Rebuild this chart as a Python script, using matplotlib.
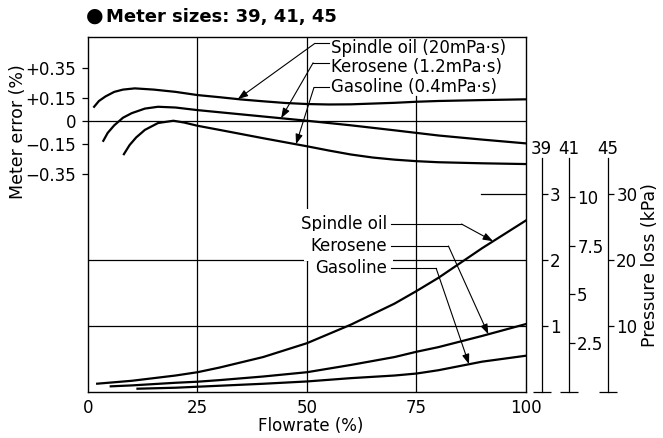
import numpy as np
import matplotlib
matplotlib.use("Agg")
import matplotlib.pyplot as plt

plt.rcParams['font.family'] = ['DejaVu Sans']
plt.rcParams['font.size'] = 12

# ---- data -------------------------------------------------------------
flow_ticks = [0, 25, 50, 75, 100]
err_ticks = [0.35, 0.15, 0, -0.15, -0.35]

# meter error (%) vs flowrate (%)
flow_err_spindle = [1.4, 2.5, 4, 6, 8, 10.7, 15, 20, 25, 30, 35, 40, 45, 50, 55, 60, 70, 75, 80, 90, 100]
err_spindle = [0.092, 0.13, 0.16, 0.19, 0.205, 0.213, 0.205, 0.19, 0.169, 0.155, 0.14, 0.128, 0.117, 0.11, 0.107, 0.108, 0.118, 0.125, 0.13, 0.136, 0.141]
flow_err_kerosene = [3.5, 4.5, 6, 8, 10, 13, 16, 20, 25, 30, 40, 50, 60, 70, 75, 80, 90, 100]
err_kerosene = [-0.132, -0.08, -0.03, 0.02, 0.05, 0.08, 0.092, 0.087, 0.07, 0.056, 0.028, 0.0, -0.03, -0.063, -0.08, -0.097, -0.124, -0.149]
flow_err_gasoline = [8.2, 9.5, 11, 13, 16, 19.5, 22, 25, 30, 40, 50, 55, 60, 65, 70, 75, 80, 90, 100]
err_gasoline = [-0.22, -0.16, -0.11, -0.06, -0.015, 0.0, -0.012, -0.033, -0.06, -0.115, -0.168, -0.196, -0.222, -0.242, -0.256, -0.266, -0.273, -0.28, -0.285]

# pressure loss (kPa, size 39 scale) vs flowrate (%)
flow_p_spindle = [2.1, 10, 20, 25, 30, 40, 50, 60, 70, 75, 80, 90, 100]
p_spindle = [0.126, 0.17, 0.25, 0.30, 0.37, 0.53, 0.74, 1.02, 1.34, 1.53, 1.73, 2.18, 2.6]
flow_p_kerosene = [5.2, 10, 20, 25, 30, 40, 50, 60, 70, 75, 80, 90, 100]
p_kerosene = [0.086, 0.1, 0.14, 0.156, 0.18, 0.235, 0.30, 0.41, 0.53, 0.61, 0.68, 0.85, 1.03]
flow_p_gasoline = [11.3, 20, 25, 30, 40, 50, 60, 70, 75, 80, 90, 100]
p_gasoline = [0.05, 0.065, 0.08, 0.095, 0.125, 0.16, 0.21, 0.25, 0.28, 0.33, 0.46, 0.55]

sizes = ['39', '41', '45']
size_ticks = [[1, 2, 3], [2.5, 5, 7.5, 10], [10, 20, 30]]
size_tick_labels = [['1', '2', '3'], ['2.5', '5', '7.5', '10'], ['10', '20', '30']]
size_ymax = [5.38, 18.2, 53.8]      # top of the plot frame on each scale
size_spine_top = [3.545, 12.0, 35.45]

err_labels = ['Spindle oil (20mPa\u00b7s)', 'Kerosene (1.2mPa\u00b7s)', 'Gasoline (0.4mPa\u00b7s)']
p_labels = ['Spindle oil', 'Kerosene', 'Gasoline']

# ---- figure -----------------------------------------------------------
fig = plt.figure(figsize=(6.63, 4.38), dpi=100)
ax = fig.add_axes([0.1327, 0.105, 0.6606, 0.8105])
lw_grid = 0.9
lw_curve = 1.6

ax.set_xlim(0, 100)
ax.set_ylim(-1.785, 0.551)
for s in ax.spines.values():
    s.set_linewidth(1.0)
ax.set_xticks(flow_ticks)
ax.set_xticklabels([str(v) for v in flow_ticks])
ax.tick_params(axis='x', length=0, pad=5)
ax.set_yticks(err_ticks)
ax.set_yticklabels(['0' if v == 0 else ('+%.2f' % v if v > 0 else '\u2212%.2f' % -v) for v in err_ticks])
ax.tick_params(axis='y', direction='out', length=4.5, width=0.9, pad=4)

# grid lines
ax.axhline(0, color='black', lw=lw_grid)
ax.axvline(25, color='black', lw=lw_grid)
ax.axvline(50, color='black', lw=lw_grid)
ax.axvline(75, ymax=0.834, color='black', lw=lw_grid)

ax.plot(flow_err_spindle, err_spindle, color='black', lw=lw_curve)
ax.plot(flow_err_kerosene, err_kerosene, color='black', lw=lw_curve)
ax.plot(flow_err_gasoline, err_gasoline, color='black', lw=lw_curve)

# upper labels with leaders
arrow_kw = dict(arrowstyle='-|>,head_length=0.5,head_width=0.18', color='black', lw=0.8,
                shrinkA=0, shrinkB=0)
err_series = [(flow_err_spindle, err_spindle), (flow_err_kerosene, err_kerosene),
              (flow_err_gasoline, err_gasoline)]
err_text_y = [0.478, 0.351, 0.224]
err_corner = [(51.8, 0.509), (51.4, 0.381), (51.6, 0.219)]
err_tip_x = [34.2, 44.1, 47.5]
for lab, ty, (cx, cy), tx, (fx, fy) in zip(err_labels, err_text_y, err_corner, err_tip_x, err_series):
    ax.text(55.4, ty, lab, ha='left', va='center', fontsize=12)
    ax.plot([cx, 55.0], [cy, cy], color='black', lw=0.8)
    ax.annotate('', xy=(tx, np.interp(tx, fx, fy)), xytext=(cx, cy), arrowprops=arrow_kw)

# pressure loss scales
spine_pos = [1.036, 1.098, 1.187]
pars = []
for i, name in enumerate(sizes):
    p = ax.twinx()
    p.set_ylim(0, size_ymax[i])
    for k in ['top', 'left', 'bottom']:
        p.spines[k].set_visible(False)
    p.spines['right'].set_position(('axes', spine_pos[i]))
    p.spines['right'].set_bounds(0, size_spine_top[i])
    p.spines['right'].set_linewidth(0.9)
    p.set_yticks(size_ticks[i])
    p.set_yticklabels(size_tick_labels[i])
    p.set_yticks([0], minor=True)
    p.tick_params(axis='y', which='major', direction='out', length=4, width=0.9, pad=2)
    p.tick_params(axis='y', which='minor', direction='inout', length=12.5, width=0.9)
    ax.text(spine_pos[i], 0.685, name, transform=ax.transAxes, ha='center', va='center', fontsize=12)
    pars.append(p)

p39 = pars[0]
p39.axhline(1, color='black', lw=lw_grid)
p39.axhline(2, color='black', lw=lw_grid)
p39.axhline(3, xmin=0.897, color='black', lw=lw_grid)

p39.plot(flow_p_spindle, p_spindle, color='black', lw=lw_curve)
p39.plot(flow_p_kerosene, p_kerosene, color='black', lw=lw_curve)
p39.plot(flow_p_gasoline, p_gasoline, color='black', lw=lw_curve)

p_series = [(flow_p_spindle, p_spindle), (flow_p_kerosene, p_kerosene), (flow_p_gasoline, p_gasoline)]
p_text_y = [2.545, 2.212, 1.874]
p_corner_x = [85.3, 82.3, 79.5]
p_tip_x = [92.5, 91.4, 87.0]
for lab, ty, cx, tx, (fx, fy) in zip(p_labels, p_text_y, p_corner_x, p_tip_x, p_series):
    p39.text(68.3, ty, lab, ha='right', va='center', fontsize=12, zorder=5,
             bbox=dict(facecolor='white', edgecolor='none', pad=4.5))
    p39.plot([69.2, cx], [ty, ty], color='black', lw=0.8, zorder=6)
    p39.annotate('', xy=(tx, np.interp(tx, fx, fy)), xytext=(cx, ty), arrowprops=arrow_kw)

# axis titles
fig.text(18 / 663, 1 - 132 / 438, 'Meter error (%)', rotation=90, ha='center', va='center', fontsize=12.5)
fig.text(650 / 663, 1 - 265 / 438, 'Pressure loss (kPa)', rotation=90, ha='center', va='center', fontsize=12.5)
fig.text(311 / 663, 1 - 426 / 438, 'Flowrate (%)', ha='center', va='center', fontsize=12)
fig.text(86 / 663, 1 - 16 / 438, '\u25cf', ha='left', va='center', fontsize=14.5)
fig.text(106 / 663, 1 - 17 / 438, 'Meter sizes: 39, 41, 45', ha='left', va='center',
         fontsize=13, fontweight='bold')

fig.savefig('out.png', dpi=100)
